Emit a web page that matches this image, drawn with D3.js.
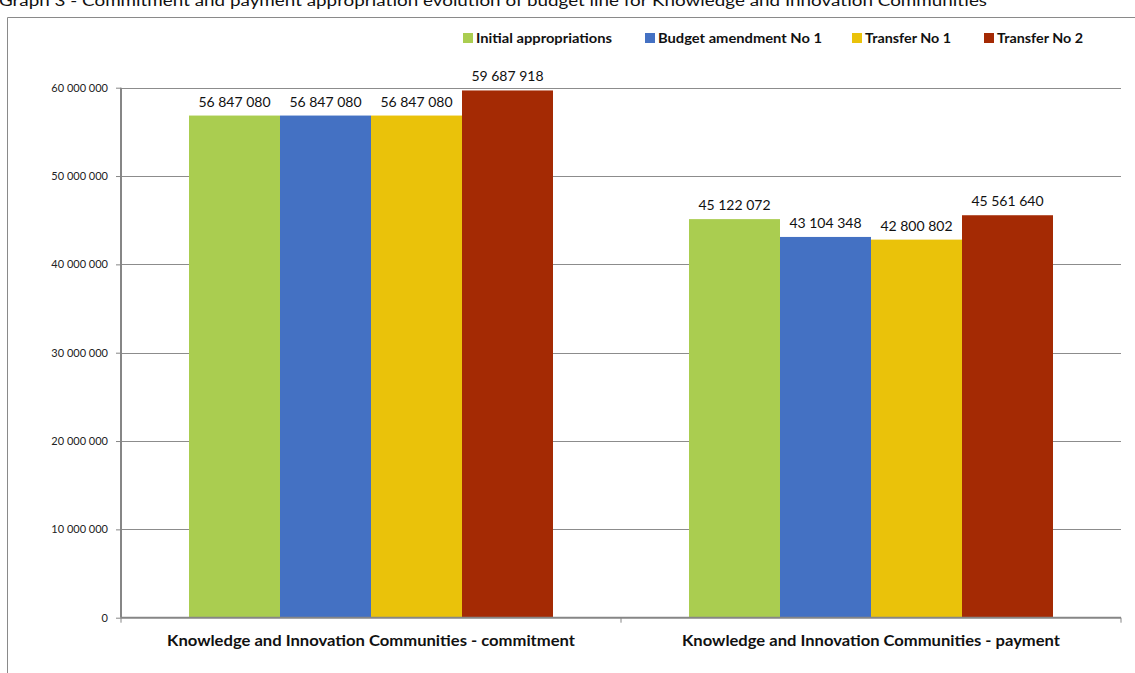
<!DOCTYPE html>
<html><head><meta charset="utf-8">
<script src="https://cdn.jsdelivr.net/npm/d3@7"></script>
<style>
body{margin:0;background:#fff;}
svg{display:block;font-family:Lato,"Open Sans",sans-serif;}
</style></head>
<body><svg id="c" width="1135" height="673"></svg>
<script>
const title = "Graph 3 - Commitment and payment appropriation evolution of budget line for Knowledge and Innovation Communities";
const categories = ["Knowledge and Innovation Communities - commitment", "Knowledge and Innovation Communities - payment"];
const seriesNames = ["Initial appropriations", "Budget amendment No 1", "Transfer No 1", "Transfer No 2"];
const seriesColors = ["#AACD50", "#4471C3", "#EAC20A", "#A42A04"];
const initialAppropriations = [56847080, 45122072];
const budgetAmendment1 = [56847080, 43104348];
const transfer1 = [56847080, 42800802];
const transfer2 = [59687918, 45561640];
const yTicks = [0, 10000000, 20000000, 30000000, 40000000, 50000000, 60000000];

const seriesValues = [initialAppropriations, budgetAmendment1, transfer1, transfer2];
const svg = d3.select("#c");
const fmt = v => d3.format(",")(v).replace(/,/g, " ");

// title (clipped at top, as in the reference)
svg.append("text").attr("x", -1).attr("y", 6).attr("font-size", 15).attr("fill", "#111")
  .attr("textLength", 988).attr("lengthAdjust", "spacingAndGlyphs").text(title);

// outer frame
svg.append("path").attr("d", "M7.5,673 V17.5 H1135").attr("fill", "none").attr("stroke", "#8a8a8a").attr("stroke-width", 1);

const m = {left: 121, right: 1121, top: 87.7, bottom: 617.7};
const x0 = d3.scaleBand().domain(categories).range([m.left, m.right]).padding(0);
const bw = x0.bandwidth();
const x1 = d3.scaleBand().domain(seriesNames).range([bw * 0.136, bw * 0.864]).padding(0);
const y = d3.scaleLinear().domain([0, 60000000]).range([m.bottom, m.top]);

// gridlines
svg.append("g").selectAll("line").data(yTicks.filter(d => d > 0)).join("line")
  .attr("x1", m.left).attr("x2", m.right)
  .attr("y1", d => Math.round(y(d)) + 0.5).attr("y2", d => Math.round(y(d)) + 0.5)
  .attr("stroke", "#8c8c8c").attr("stroke-width", 1);

// bars
const groups = svg.append("g").selectAll("g").data(categories).join("g")
  .attr("transform", c => `translate(${x0(c)},0)`);
const rows = (c, i) => seriesNames.map((s, j) => ({s, j, v: seriesValues[j][i]}));
groups.selectAll("rect").data(rows).join("rect")
  .attr("x", d => x1(d.s)).attr("width", x1.bandwidth())
  .attr("y", d => y(d.v)).attr("height", d => y(0) - y(d.v))
  .attr("fill", d => seriesColors[d.j]);
groups.selectAll("text").data(rows).join("text")
  .attr("x", d => x1(d.s) + x1.bandwidth() / 2).attr("y", d => y(d.v) - 9)
  .attr("text-anchor", "middle").attr("font-size", 14).attr("fill", "#111")
  .text(d => fmt(d.v));

// y axis
const yAxis = d3.axisLeft(y).tickValues(yTicks).tickSize(5).tickPadding(8).tickFormat(fmt);
const ga = svg.append("g").attr("transform", `translate(${m.left},0)`).call(yAxis);
ga.select(".domain").attr("stroke", "#868686").attr("stroke-width", 2).attr("d", `M0,${m.top}V${m.bottom}`);
ga.selectAll(".tick line").attr("stroke", "#868686");
ga.selectAll(".tick text").attr("font-size", 11).attr("fill", "#222").attr("font-family", "Lato, sans-serif");

// x axis
const gx = svg.append("g").attr("transform", `translate(0,${m.bottom})`);
gx.append("line").attr("x1", m.left).attr("x2", m.right).attr("y1", 0).attr("y2", 0).attr("stroke", "#868686").attr("stroke-width", 2);
gx.selectAll(".xt").data([m.left, x0(categories[1]), m.right]).join("line")
  .attr("x1", d => d).attr("x2", d => d).attr("y1", 0).attr("y2", 5).attr("stroke", "#868686");
const catW = [408, 378];
gx.selectAll(".xl").data(categories).join("text")
  .attr("x", c => x0(c) + x0.bandwidth() / 2).attr("y", 28)
  .attr("text-anchor", "middle").attr("font-size", 15).attr("font-weight", "bold").attr("fill", "#111")
  .attr("textLength", (c, i) => catW[i]).attr("lengthAdjust", "spacingAndGlyphs")
  .text(c => c);

// legend
const legX = [463, 645, 852, 984];
const legW = [136, 164, 86, 86];
const lg = svg.append("g").selectAll("g").data(seriesNames).join("g")
  .attr("transform", (d, i) => `translate(${legX[i]},33)`);
lg.append("rect").attr("width", 10).attr("height", 10).attr("fill", (d, i) => seriesColors[i]);
lg.append("text").attr("x", 13).attr("y", 10).attr("font-size", 13.5).attr("font-weight", "bold").attr("fill", "#111")
  .attr("textLength", (d, i) => legW[i]).attr("lengthAdjust", "spacingAndGlyphs").text(d => d);
</script></body></html>
